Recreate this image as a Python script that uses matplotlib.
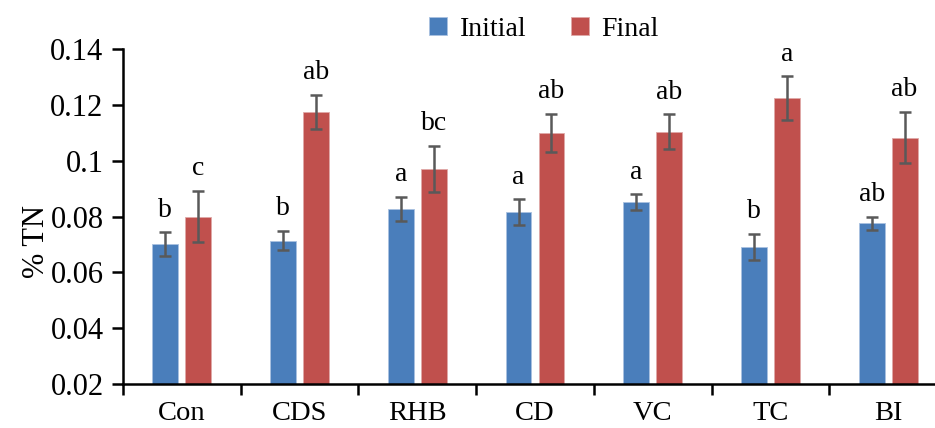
import numpy as np
import matplotlib.pyplot as plt
from matplotlib.ticker import FixedLocator

plt.rcParams['font.family'] = ['Liberation Serif', 'DejaVu Serif']

# data
groups = ['Con', 'CDS', 'RHB', 'CD', 'VC', 'TC', 'BI']
initial = [0.0700, 0.0714, 0.0828, 0.0815, 0.0851, 0.0691, 0.0775]
initial_err = [0.0043, 0.0035, 0.0043, 0.0046, 0.0028, 0.0047, 0.0025]
final = [0.0800, 0.1174, 0.0970, 0.1100, 0.1104, 0.1224, 0.1083]
final_err = [0.0092, 0.0062, 0.0082, 0.0068, 0.0062, 0.0078, 0.0092]
initial_letters = ['b', 'b', 'a', 'a', 'a', 'b', 'ab']
final_letters = ['c', 'ab', 'bc', 'ab', 'ab', 'a', 'ab']

blue = '#4A7EBB'
red = '#C0504D'
err_col = '#595959'

fig = plt.figure(figsize=(9.35, 4.28), dpi=100)
ax = fig.add_axes([0.1316, 0.1028, 0.8812, 0.7827])

x = np.arange(len(groups))
w = 0.22
off = 0.14

ax.bar(x - off, initial, width=w, color=blue, edgecolor='#a9c1e0',
       linewidth=0.6, label='Initial', zorder=2)
ax.bar(x + off, final, width=w, color=red, edgecolor='#e0a9a8',
       linewidth=0.6, label='Final', zorder=2)
ax.errorbar(x - off, initial, yerr=initial_err, fmt='none', ecolor=err_col,
            elinewidth=1.8, capsize=4.5, capthick=1.8, zorder=3)
ax.errorbar(x + off, final, yerr=final_err, fmt='none', ecolor=err_col,
            elinewidth=1.8, capsize=4.5, capthick=1.8, zorder=3)

for i in range(len(groups)):
    ax.annotate(initial_letters[i], (x[i] - off, initial[i] + initial_err[i]),
                xytext=(0, 7), textcoords='offset points', ha='center',
                va='bottom', fontsize=20)
    ax.annotate(final_letters[i], (x[i] + off, final[i] + final_err[i]),
                xytext=(0, 7), textcoords='offset points', ha='center',
                va='bottom', fontsize=20)

ax.set_xlim(-0.5, len(groups) - 0.5)
ax.set_ylim(0.02, 0.14)
ax.set_yticks([0.02, 0.04, 0.06, 0.08, 0.1, 0.12, 0.14])
ax.set_yticklabels(['0.02', '0.04', '0.06', '0.08', '0.1', '0.12', '0.14'])
ax.set_xticks(x)
ax.set_xticklabels(groups)
ax.xaxis.set_minor_locator(FixedLocator(np.arange(-0.5, len(groups), 1.0)))
ax.tick_params(axis='x', which='major', length=0, pad=12, labelsize=20.5)
ax.tick_params(axis='x', which='minor', length=8, width=1.8, direction='out')
ax.tick_params(axis='y', length=8, width=1.8, labelsize=22, pad=6)
ax.set_ylabel('% TN', fontsize=22)
ax.yaxis.set_label_coords(-0.088, 0.424)

for s in ['top', 'right']:
    ax.spines[s].set_visible(False)
for s in ['left', 'bottom']:
    ax.spines[s].set_linewidth(1.8)

fig.legend(loc='center', bbox_to_anchor=(0.582, 0.932), ncol=2, frameon=False,
           fontsize=20, handlelength=0.65, handleheight=0.65, handletextpad=0.45,
           columnspacing=1.6)

fig.savefig('out.png', dpi=100)
